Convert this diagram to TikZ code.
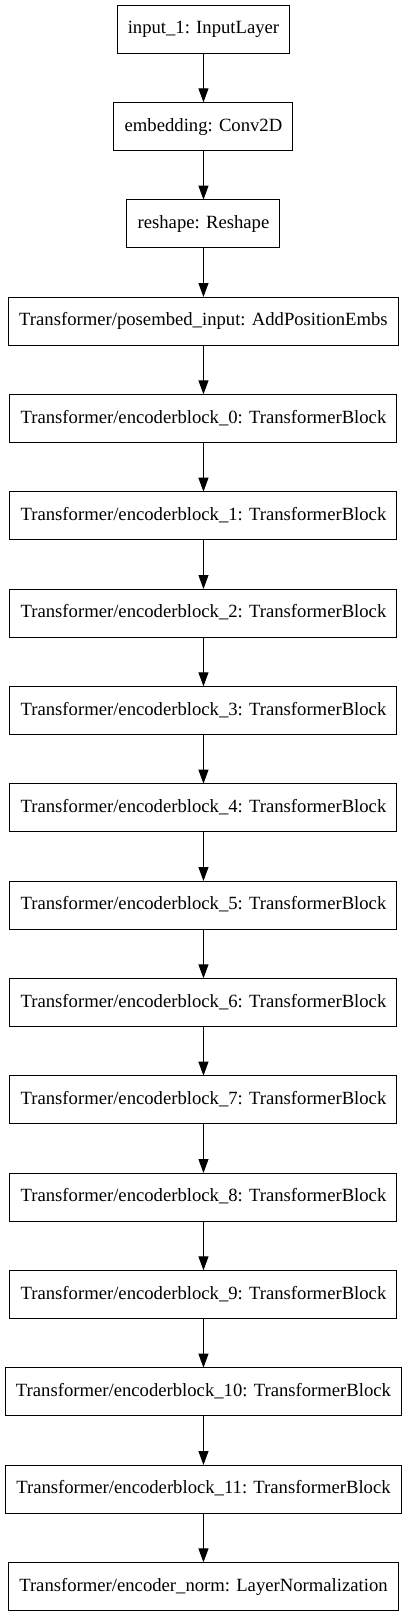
\documentclass[tikz,border=0pt]{standalone}
\usepackage{fontspec}
\setmainfont{Liberation Serif}
\newfontfamily\layerfont{Liberation Serif}
\usetikzlibrary{arrows.meta}
\usetikzlibrary{positioning}
\tikzstyle{base}=[inner sep=0pt, outer sep=0pt]
\tikzstyle{layer}=[draw=black, line width=0.75pt, minimum height=36pt, inner xsep=8pt, text height=10pt, text depth=3pt, font=\layerfont\fontsize{14}{16}\selectfont]
\tikzstyle{flow}=[-{Triangle[length=10.5pt,width=7.5pt]}, line width=0.75pt]

\begin{document}
\begin{tikzpicture}[base]
    \path [use as bounding box] (0,0) rectangle (305.25pt,-1212.75pt);
        \node [layer] (input) at (152.6pt,-21.75pt) {input\_1: InputLayer};
        \node [layer, below=37pt of input] (embedding) {embedding: Conv2D};
        \node [layer, below=37pt of embedding] (reshape) {reshape: Reshape};
        \node [layer, below=37pt of reshape] (posembed) {Transformer/posembed\_input: AddPositionEmbs};
        \node [layer, below=37pt of posembed] (block0) {Transformer/encoderblock\_0: TransformerBlock};
        \foreach \i [remember=\i as \j (initially 0)] in {1,...,11}
            \node [layer, below=37pt of block\j] (block\i) {Transformer/encoderblock\_\i: TransformerBlock};
        \node [layer, below=37pt of block11] (norm) {Transformer/encoder\_norm: LayerNormalization};
        \draw [flow] (input) -- (embedding);
        \draw [flow] (embedding) -- (reshape);
        \draw [flow] (reshape) -- (posembed);
        \draw [flow] (posembed) -- (block0);
        \foreach \i [remember=\i as \j (initially 0)] in {1,...,11}
            \draw [flow] (block\j) -- (block\i);
        \draw [flow] (block11) -- (norm);
    \end{tikzpicture}
\end{document}
